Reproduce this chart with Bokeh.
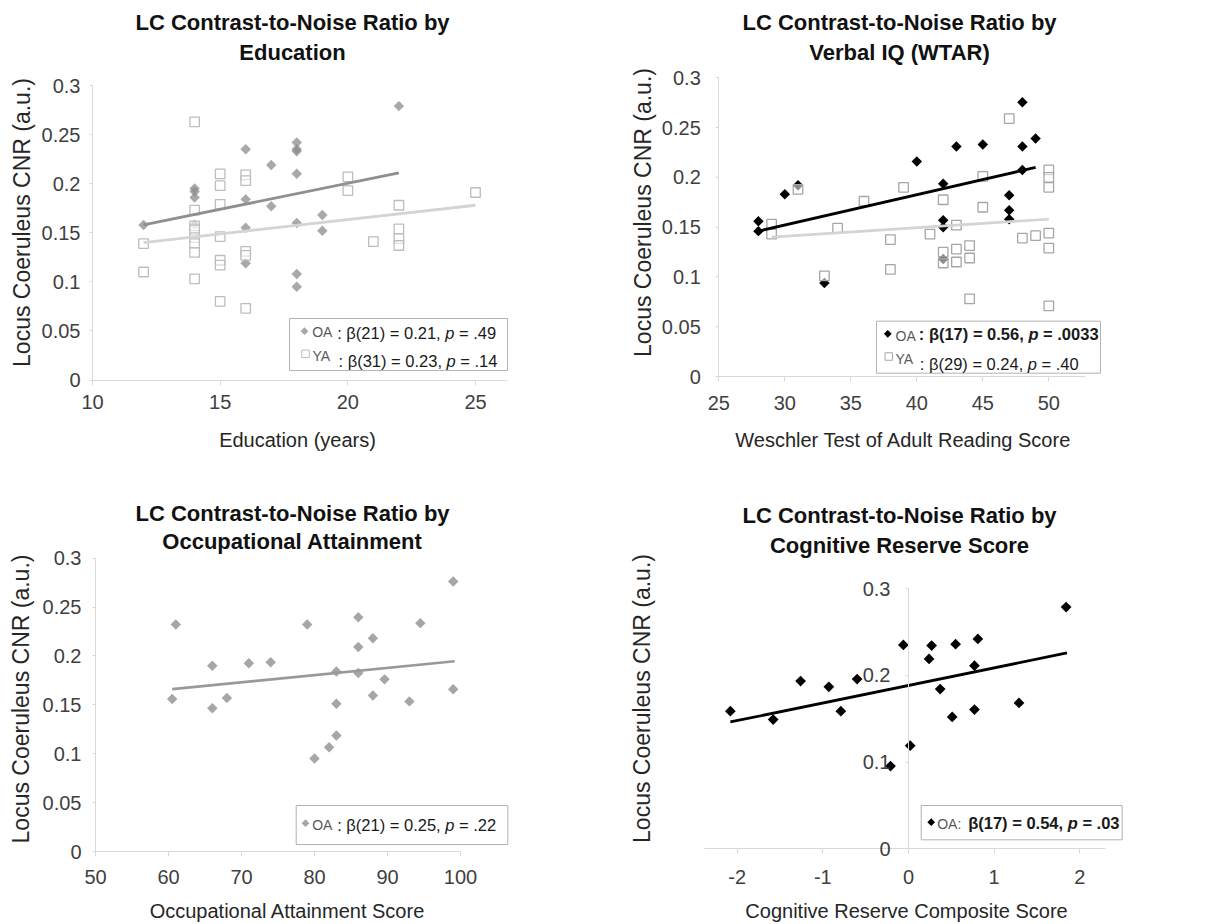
import math
from bokeh.plotting import figure
from bokeh.models import Label, FixedTicker, Range1d
from bokeh.layouts import column, row
from bokeh.embed import file_html
from bokeh.resources import INLINE

# ---------------- data ----------------
# Panel 1: Education (years)
edu_oa_x = [12, 14, 14, 14, 14, 16, 16, 16, 16, 17, 17, 18, 18, 18, 18, 18, 18, 18, 19, 19, 22]
edu_oa_y = [0.158, 0.195, 0.192, 0.186, 0.158, 0.235, 0.184, 0.155, 0.119, 0.219, 0.177,
            0.242, 0.235, 0.233, 0.210, 0.160, 0.108, 0.095, 0.168, 0.152, 0.279]
edu_ya_x = [12, 12, 14, 14, 14, 14, 14, 14, 14, 14, 15, 15, 15, 15, 15, 15, 15,
            16, 16, 16, 16, 16, 20, 20, 21, 22, 22, 22, 22, 25]
edu_ya_y = [0.139, 0.110, 0.263, 0.173, 0.157, 0.153, 0.145, 0.139, 0.130, 0.103,
            0.210, 0.198, 0.179, 0.146, 0.122, 0.117, 0.080,
            0.209, 0.203, 0.131, 0.127, 0.073, 0.207, 0.193, 0.141,
            0.178, 0.154, 0.144, 0.137, 0.191]
edu_oa_fit_x = [12, 22]
edu_oa_fit_y = [0.158, 0.211]
edu_ya_fit_x = [12, 25]
edu_ya_fit_y = [0.140, 0.178]

# Panel 2: WTAR
wtar_oa_x = [28, 28, 30, 31, 33, 40, 42, 42, 42, 42, 43, 45, 47, 47, 47, 48, 48, 48, 49]
wtar_oa_y = [0.156, 0.146, 0.183, 0.192, 0.094, 0.216, 0.1935, 0.157, 0.150, 0.118, 0.231,
             0.233, 0.182, 0.167, 0.158, 0.2755, 0.231, 0.2075, 0.239]
wtar_ya_x = [29, 29, 31, 33, 34, 36, 38, 38, 39, 41, 42, 42, 42, 43, 43, 43, 44, 44, 44,
             45, 45, 47, 48, 49, 50, 50, 50, 50, 50, 50]
wtar_ya_y = [0.153, 0.143, 0.188, 0.101, 0.149, 0.176, 0.1375, 0.1075, 0.190, 0.143,
             0.1775, 0.125, 0.114, 0.152, 0.128, 0.115, 0.1315, 0.119, 0.078,
             0.201, 0.170, 0.259, 0.139, 0.1415, 0.2075, 0.200, 0.190, 0.144, 0.129, 0.071]
wtar_oa_fit_x = [28, 49]
wtar_oa_fit_y = [0.146, 0.210]
wtar_ya_fit_x = [29, 50]
wtar_ya_fit_y = [0.140, 0.158]

# Panel 3: Occupational attainment
occ_oa_x = [60.5, 61, 66, 66, 68, 71, 74, 79, 80, 82, 83, 83, 83, 86, 86, 86, 88, 88,
            89.6, 93, 94.5, 99, 99]
occ_oa_y = [0.156, 0.232, 0.190, 0.1465, 0.157, 0.1925, 0.1935, 0.232, 0.095, 0.1065,
            0.1185, 0.151, 0.184, 0.2395, 0.209, 0.1825, 0.218, 0.1595, 0.176, 0.1535,
            0.2335, 0.276, 0.166]
occ_oa_fit_x = [60.5, 99.2]
occ_oa_fit_y = [0.166, 0.1945]

# Panel 4: Cognitive reserve composite
cr_oa_x = [-2.08, -1.58, -1.26, -0.93, -0.79, -0.60, -0.21, -0.06, 0.02, 0.24, 0.27,
           0.37, 0.51, 0.55, 0.77, 0.77, 0.81, 1.29, 1.84]
cr_oa_y = [0.1587, 0.149, 0.1934, 0.1869, 0.1587, 0.1958, 0.0954, 0.2351, 0.119, 0.219,
           0.2344, 0.1842, 0.1521, 0.236, 0.2112, 0.1606, 0.242, 0.1683, 0.2788]
cr_oa_fit_x = [-2.08, 1.85]
cr_oa_fit_y = [0.1463, 0.2259]

# ticks
y_ticks_a = [0, 0.05, 0.1, 0.15, 0.2, 0.25, 0.3]
y_labels_a = ["0", "0.05", "0.1", "0.15", "0.2", "0.25", "0.3"]
y_ticks_b = [0, 0.1, 0.2, 0.3]
y_labels_b = ["0", "0.1", "0.2", "0.3"]
edu_ticks = [10, 15, 20, 25]
edu_labels = ["10", "15", "20", "25"]
wtar_ticks = [25, 30, 35, 40, 45, 50]
wtar_labels = ["25", "30", "35", "40", "45", "50"]
occ_ticks = [50, 60, 70, 80, 90, 100]
occ_labels = ["50", "60", "70", "80", "90", "100"]
cr_ticks = [-2, -1, 0, 1, 2]
cr_labels = ["-2", "-1", "0", "1", "2"]

# ---------------- styling ----------------
FONT = "Liberation Sans"
AXC = "#d9d9d9"
TICKC = "#3f3f3f"
LABC = "#262626"
GREY_D = "#8c8c8c"
GREY_SQ = "#bdbdbd"
LEG = 16.5

REG_W = {' ': .278, ':': .278, '(': .333, ')': .333, '=': .584, '.': .278, ',': .278,
         'p': .556, 'β': .569}
BOLD_W = {' ': .278, ':': .333, '(': .333, ')': .333, '=': .584, '.': .278, ',': .278,
          'p': .611, 'β': .611}


def tw(s, size, bold):
    t = BOLD_W if bold else REG_W
    return sum(t.get(c, .556) for c in s) * size


class Geo:
    """Pixel geometry of one panel: canvas origin/size and pixel<->value maps."""
    def __init__(self, origin, size, xmap, ymap):
        self.ox, self.oy = origin
        self.w, self.h = size
        self.xmap, self.ymap = xmap, ymap

    @staticmethod
    def _lin(m, px):
        a, pa, b, pb = m
        return a + (px - pa) * (b - a) / (pb - pa)

    def dx(self, sx):
        return self._lin(self.xmap, sx)

    def dy(self, sy):
        return self._lin(self.ymap, sy)

    def xr(self):
        return (self.dx(self.ox), self.dx(self.ox + self.w))

    def yr(self):
        return (self.dy(self.oy + self.h), self.dy(self.oy))


def make_fig(g):
    p = figure(width=g.w, height=g.h, x_range=Range1d(*g.xr()), y_range=Range1d(*g.yr()),
               output_backend="svg", toolbar_location=None, min_border=0)
    p.title.visible = False
    p.outline_line_color = None
    p.xgrid.visible = False
    p.ygrid.visible = False
    p.background_fill_color = "white"
    p.border_fill_color = "white"
    return p


def style_axes(p, xt, xl, yt, yl, xso, yso, yloc, xbounds):
    xa, ya = p.xaxis[0], p.yaxis[0]
    for ax in (xa, ya):
        ax.axis_line_color = AXC
        ax.axis_line_width = 1
        ax.major_tick_line_color = AXC
        ax.minor_tick_line_color = None
        ax.major_tick_in = 0
        ax.major_label_text_font = FONT
        ax.major_label_text_font_size = "20px"
        ax.major_label_text_color = TICKC
    xa.major_tick_out = 5
    ya.major_tick_out = 3
    xa.ticker = FixedTicker(ticks=xt)
    xa.major_label_overrides = dict(zip(xt, xl))
    ya.ticker = FixedTicker(ticks=yt)
    ya.major_label_overrides = dict(zip(yt, yl))
    xa.major_label_standoff = int(round(xso))
    ya.major_label_standoff = int(round(yso))
    xa.fixed_location = 0
    ya.fixed_location = yloc
    xa.bounds = xbounds
    ya.bounds = (0, 0.3)


def text(p, g, sx, sy, s, size, style="normal", color=LABC, align="left", angle=0.0):
    p.add_layout(Label(x=g.dx(sx), y=g.dy(sy), text=s, text_font=FONT,
                       text_font_size=f"{size}px", text_font_style=style,
                       text_color=color, text_align=align, text_baseline="middle",
                       angle=angle))


def titles(p, g, cx, y1, y2, l1, l2):
    text(p, g, cx, y1, l1, 22, "bold", "#111111", "center")
    text(p, g, cx, y2, l2, 22, "bold", "#111111", "center")


def stats(p, g, sx, sy, pre, post, bold):
    st = "bold" if bold else "normal"
    col = "#1a1a1a"
    text(p, g, sx, sy, pre, LEG, st, col)
    x2 = sx + tw(pre, LEG, bold)
    text(p, g, x2, sy, "p", LEG, "bold italic" if bold else "italic", col)
    x3 = x2 + tw("p", LEG, bold) + tw(" ", LEG, bold)
    text(p, g, x3, sy, post.lstrip(), LEG, st, col)


def legend_box(p, g, l, t, r, b):
    p.quad(left=[g.dx(l)], right=[g.dx(r)], top=[g.dy(t)], bottom=[g.dy(b)],
           fill_color="white", line_color="#b3b3b3", line_width=1)


def diamond(p, xs, ys, color, alpha=1.0, size=7.4):
    p.scatter(xs, ys, marker="square", angle=math.pi / 4, size=size,
              fill_color=color, fill_alpha=alpha, line_color=None)


def squares(p, xs, ys, color, size=9.5):
    p.scatter(xs, ys, marker="square", size=size, fill_color="white", fill_alpha=0.55,
              line_color=color, line_width=1.3)


W1, W2 = 600, 618
H1, H2 = 455, 468

# ---------------- panel 1 ----------------
g1 = Geo((0, 0), (W1, H1), (10, 92, 25, 475), (0, 379.5, 0.3, 85))
p1 = make_fig(g1)
style_axes(p1, edu_ticks, edu_labels, y_ticks_a, y_labels_a, 10, 9, 10, (10, g1.dx(507)))
diamond(p1, edu_oa_x, edu_oa_y, GREY_D, 0.75)
squares(p1, edu_ya_x, edu_ya_y, GREY_SQ)
p1.line(edu_oa_fit_x, edu_oa_fit_y, line_color="#8f8f8f", line_width=2.8)
p1.line(edu_ya_fit_x, edu_ya_fit_y, line_color="#d4d4d4", line_width=2.8)
legend_box(p1, g1, 289, 318, 507, 370)
diamond(p1, [g1.dx(304)], [g1.dy(330.7)], "#a6a6a6", 1.0, 5.5)
p1.scatter([g1.dx(305)], [g1.dy(353.3)], marker="square", size=7.5, fill_color="white",
           line_color=GREY_SQ, line_width=1)
text(p1, g1, 311.7, 331.5, "OA", 14, color="#595959")
stats(p1, g1, 336.7, 332, ": β(21) = 0.21, ", " = .49", False)
text(p1, g1, 312, 355, "YA", 14, color="#595959")
stats(p1, g1, 338, 360.5, ": β(31) = 0.23, ", " = .14", False)
titles(p1, g1, 292, 22, 52, "LC Contrast-to-Noise Ratio by", "Education")
text(p1, g1, 297, 439, "Education (years)", 20, color=LABC, align="center")
text(p1, g1, 21, 222, "Locus Coeruleus CNR (a.u.)", 23, color=LABC, align="center",
     angle=math.pi / 2)

# ---------------- panel 2 ----------------
g2 = Geo((W1, 0), (W2, H1), (25, 718.3, 50, 1048.3), (0, 376, 0.3, 77.3))
p2 = make_fig(g2)
style_axes(p2, wtar_ticks, wtar_labels, y_ticks_a, y_labels_a, 14, 15, 25, (25, g2.dx(1085)))
diamond(p2, wtar_oa_x, wtar_oa_y, "#000000", 1.0)
squares(p2, wtar_ya_x, wtar_ya_y, "#a6a6a6")
p2.line(wtar_ya_fit_x, wtar_ya_fit_y, line_color="#d4d4d4", line_width=2.6)
p2.line(wtar_oa_fit_x, wtar_oa_fit_y, line_color="#000000", line_width=2.8)
legend_box(p2, g2, 876, 320.7, 1100, 372.7)
diamond(p2, [g2.dx(887.3)], [g2.dy(333.3)], "#000000", 1.0, 5.5)
p2.scatter([g2.dx(888.3)], [g2.dy(356)], marker="square", size=7.5, fill_color="white",
           line_color="#a6a6a6", line_width=1)
text(p2, g2, 895, 335, "OA", 14, color="#595959")
stats(p2, g2, 918.3, 333.3, ": β(17) = 0.56, ", " = .0033", True)
text(p2, g2, 895, 358, "YA", 14, color="#595959")
stats(p2, g2, 919.3, 363.3, ": β(29) = 0.24, ", " = .40", False)
titles(p2, g2, 899, 22, 52, "LC Contrast-to-Noise Ratio by", "Verbal IQ (WTAR)")
text(p2, g2, 903, 439, "Weschler Test of Adult Reading Score", 20, color=LABC, align="center")
text(p2, g2, 642, 212, "Locus Coeruleus CNR (a.u.)", 23, color=LABC, align="center",
     angle=math.pi / 2)

# ---------------- panel 3 ----------------
g3 = Geo((0, H1), (W1, H2), (50, 95, 100, 460), (0, 851, 0.3, 557.6))
p3 = make_fig(g3)
style_axes(p3, occ_ticks, occ_labels, y_ticks_a, y_labels_a, 13, 11, 50, (50, 100))
diamond(p3, occ_oa_x, occ_oa_y, "#a6a6a6", 1.0)
p3.line(occ_oa_fit_x, occ_oa_fit_y, line_color="#999999", line_width=2.6)
legend_box(p3, g3, 295.7, 805, 507.3, 844)
diamond(p3, [g3.dx(305)], [g3.dy(822.7)], "#a6a6a6", 1.0, 5.5)
text(p3, g3, 311.7, 824, "OA", 14, color="#595959")
stats(p3, g3, 336.7, 824.3, ": β(21) = 0.25, ", " = .22", False)
titles(p3, g3, 292, 513, 541, "LC Contrast-to-Noise Ratio by", "Occupational Attainment")
text(p3, g3, 287, 910, "Occupational Attainment Score", 20, color=LABC, align="center")
text(p3, g3, 20, 698.5, "Locus Coeruleus CNR (a.u.)", 23, color=LABC, align="center",
     angle=math.pi / 2)

# ---------------- panel 4 ----------------
g4 = Geo((W1, H1), (W2, H2), (-2, 736.7, 2, 1079.3), (0, 848.3, 0.3, 588.2))
p4 = make_fig(g4)
style_axes(p4, cr_ticks, cr_labels, y_ticks_b, y_labels_b, 16, 15, 0,
           (g4.dx(704), g4.dx(1105)))
diamond(p4, cr_oa_x, cr_oa_y, "#000000", 1.0, 7.6)
p4.line(cr_oa_fit_x, cr_oa_fit_y, line_color="#000000", line_width=2.8)
legend_box(p4, g4, 920.7, 805, 1121.7, 839.3)
diamond(p4, [g4.dx(930.7)], [g4.dy(821.7)], "#000000", 1.0, 5.5)
text(p4, g4, 936.7, 823, "OA:", 14, color="#595959")
stats(p4, g4, 967.7, 822, "β(17) = 0.54, ", " = .03", True)
titles(p4, g4, 899, 515, 545, "LC Contrast-to-Noise Ratio by", "Cognitive Reserve Score")
text(p4, g4, 906, 910, "Cognitive Reserve Composite Score", 20, color=LABC, align="center")
text(p4, g4, 641, 698, "Locus Coeruleus CNR (a.u.)", 23, color=LABC, align="center",
     angle=math.pi / 2)

layout = column(row(p1, p2), row(p3, p4))
open("out.html", "w").write(file_html(layout, INLINE))
